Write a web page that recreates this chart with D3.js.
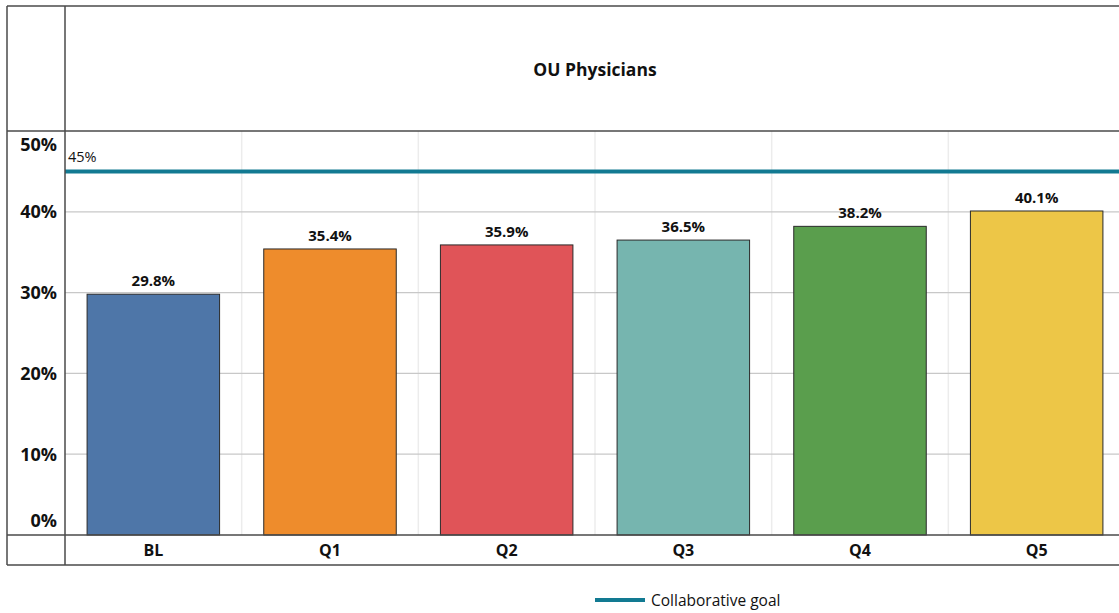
<!DOCTYPE html>
<html>
<head>
<meta charset="utf-8">
<script src="https://cdn.jsdelivr.net/npm/d3@7"></script>
<style>
  body { margin: 0; background: #fff; }
  text { font-family: "Open Sans", "Liberation Sans", sans-serif; fill: #111; }
</style>
</head>
<body>
<div id="chart"></div>
<script>
const categories = ["BL", "Q1", "Q2", "Q3", "Q4", "Q5"];
const values = [29.8, 35.4, 35.9, 36.5, 38.2, 40.1];
const barColors = ["#4E76A8", "#EE8C2C", "#E05458", "#76B5AF", "#5A9E4D", "#EDC647"];
const yTicks = [0, 10, 20, 30, 40, 50];
const goalValue = 45;
const chartTitle = "OU Physicians";
const legendLabel = "Collaborative goal";

const width = 1119, height = 613;
const frameLeft = 7, frameTop = 6, frameBottom = 565;
const plotLeft = 65, plotRight = 1125, plotTop = 131, plotBottom = 535;

const svg = d3.select("#chart")
  .append("svg")
  .attr("width", width)
  .attr("height", height);

const x = d3.scaleBand()
  .domain(categories)
  .range([plotLeft, plotRight])
  .paddingInner(0.25)
  .paddingOuter(0.125);

const y = d3.scaleLinear()
  .domain([0, 50])
  .range([plotBottom, plotTop]);

// vertical grid at category boundaries
const step = x.step();
svg.selectAll(".vgrid")
  .data(categories.slice(1))
  .enter()
  .append("line")
  .attr("x1", d => x(d) - step * 0.125)
  .attr("x2", d => x(d) - step * 0.125)
  .attr("y1", plotTop)
  .attr("y2", plotBottom)
  .attr("stroke", "#ececec")
  .attr("stroke-width", 1.5);

// horizontal grid
svg.selectAll(".hgrid")
  .data(yTicks.filter(t => t > 0 && t < 50))
  .enter()
  .append("line")
  .attr("x1", plotLeft)
  .attr("x2", plotRight)
  .attr("y1", d => y(d))
  .attr("y2", d => y(d))
  .attr("stroke", "#c8c8c8")
  .attr("stroke-width", 1.2);

// bars
svg.selectAll(".bar")
  .data(values)
  .enter()
  .append("rect")
  .attr("x", (d, i) => x(categories[i]))
  .attr("y", d => y(d))
  .attr("width", x.bandwidth())
  .attr("height", d => plotBottom - y(d))
  .attr("fill", (d, i) => barColors[i])
  .attr("stroke", "#2a2a2a")
  .attr("stroke-width", 1);

// bar labels
svg.selectAll(".barlabel")
  .data(values)
  .enter()
  .append("text")
  .attr("x", (d, i) => x(categories[i]) + x.bandwidth() / 2)
  .attr("y", d => y(d) - 8)
  .attr("text-anchor", "middle")
  .attr("font-size", 15)
  .attr("font-weight", "bold")
  .text(d => d.toFixed(1) + "%");

// goal line
svg.append("line")
  .attr("x1", plotLeft)
  .attr("x2", plotRight)
  .attr("y1", y(goalValue))
  .attr("y2", y(goalValue))
  .attr("stroke", "#127A92")
  .attr("stroke-width", 4);

svg.append("text")
  .attr("x", plotLeft + 3)
  .attr("y", y(goalValue) - 9)
  .attr("font-size", 14.5)
  .text(goalValue + "%");

// frame lines
const frame = svg.append("g")
  .attr("stroke", "#4a4a4a")
  .attr("stroke-width", 1.5);
frame.append("line").attr("x1", frameLeft).attr("x2", plotRight).attr("y1", frameTop).attr("y2", frameTop);
frame.append("line").attr("x1", frameLeft).attr("x2", plotRight).attr("y1", plotTop).attr("y2", plotTop);
frame.append("line").attr("x1", frameLeft).attr("x2", plotRight).attr("y1", plotBottom).attr("y2", plotBottom);
frame.append("line").attr("x1", frameLeft).attr("x2", plotRight).attr("y1", frameBottom).attr("y2", frameBottom);
frame.append("line").attr("x1", frameLeft).attr("x2", frameLeft).attr("y1", frameTop).attr("y2", frameBottom);
frame.append("line").attr("x1", plotLeft).attr("x2", plotLeft).attr("y1", frameTop).attr("y2", frameBottom);

// y tick labels
svg.selectAll(".ylabel")
  .data(yTicks)
  .enter()
  .append("text")
  .attr("x", 57)
  .attr("y", d => d === 50 ? y(d) + 14 : d === 0 ? y(d) - 14 : y(d))
  .attr("dy", "0.35em")
  .attr("text-anchor", "end")
  .attr("font-size", 18)
  .attr("font-weight", "bold")
  .text(d => d + "%");

// x labels
svg.selectAll(".xlabel")
  .data(categories)
  .enter()
  .append("text")
  .attr("x", d => x(d) + x.bandwidth() / 2)
  .attr("y", (plotBottom + frameBottom) / 2)
  .attr("dy", "0.35em")
  .attr("text-anchor", "middle")
  .attr("font-size", 16)
  .attr("font-weight", "bold")
  .text(d => d);

// title
svg.append("text")
  .attr("x", (plotLeft + plotRight) / 2)
  .attr("y", 70)
  .attr("dy", "0.35em")
  .attr("text-anchor", "middle")
  .attr("font-size", 17.5)
  .attr("font-weight", "bold")
  .text(chartTitle);

// legend
svg.append("line")
  .attr("x1", 595)
  .attr("x2", 645)
  .attr("y1", 600)
  .attr("y2", 600)
  .attr("stroke", "#127A92")
  .attr("stroke-width", 4);

svg.append("text")
  .attr("x", 651)
  .attr("y", 601)
  .attr("dy", "0.35em")
  .attr("font-size", 15.5)
  .text(legendLabel);
</script>
</body>
</html>
